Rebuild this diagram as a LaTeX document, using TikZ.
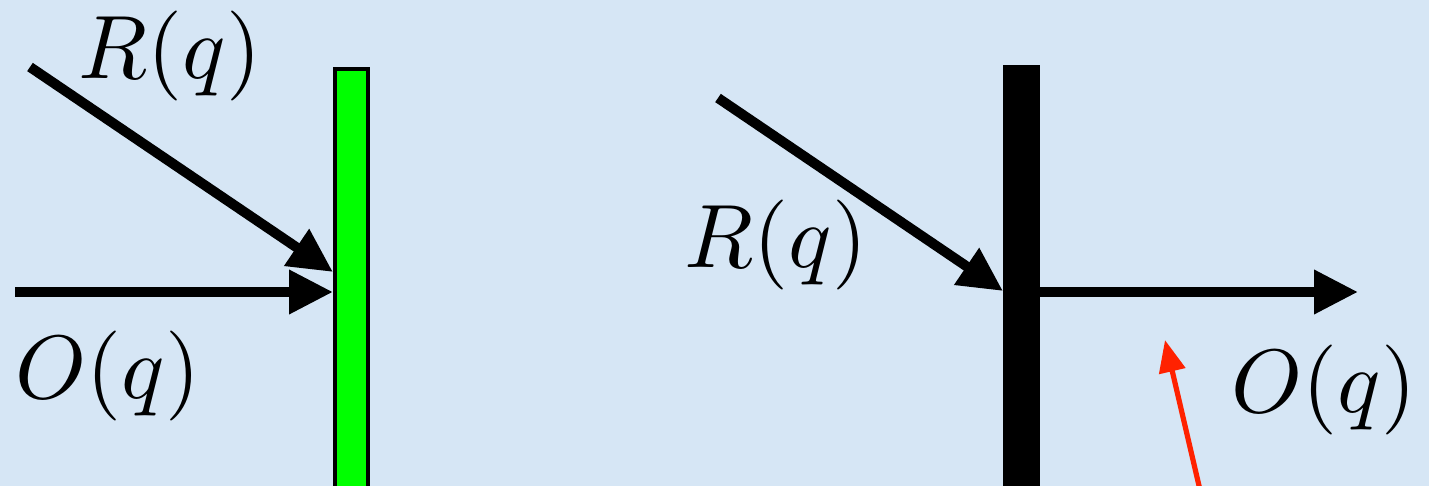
\documentclass[tikz,border=0pt]{standalone}
\usepackage{graphicx}
\usetikzlibrary{arrows.meta}
\definecolor{bgblue}{RGB}{214,230,245}
\definecolor{arrred}{RGB}{255,34,0}
\definecolor{bargreen}{RGB}{0,255,0}
\tikzset{
  ray/.style={line width=5pt, -{Triangle[length=22pt,width=21pt]}},
  lbl/.style={inner sep=0pt, font=\normalsize},
  redarrow/.style={draw=arrred, line width=2.6pt, -{Triangle[length=16pt,width=13pt]}, color=arrred}
}
\newcommand{\lab}[1]{\scalebox{4.5}{$#1(q)$}}
\begin{document}
\begin{tikzpicture}[x=0.5pt,y=-0.5pt]
\fill[bgblue] (0,0) rectangle (1429,486);
\useasboundingbox (0,0) rectangle (1429,486);
% left panel
\node[draw=black, line width=2pt, fill=bargreen, minimum width=16.5pt, minimum height=212pt, inner sep=0pt, anchor=north west] (gbar) at (333,67) {};
\coordinate (rl) at (30,67);
\coordinate (ol) at (15,292);
\coordinate (glr) at (333,272);
\coordinate (glo) at (333,292);
\draw[ray] (rl) -- (glr);
\draw[ray] (ol) -- (glo);
\node[lbl] (rlab) at (170,56) {\lab{R}};
\node[lbl] (olab) at (108,376) {\lab{O}};
% right panel
\node[fill=black, minimum width=18.5pt, minimum height=215pt, inner sep=0pt, anchor=north west] (bbar) at (1003,65) {};
\coordinate (rr) at (718,98);
\coordinate (brr) at (1003,291);
\coordinate (bro) at (1040,292);
\coordinate (oend) at (1358,292);
\draw[ray] (rr) -- (brr);
\draw[ray] (bro) -- (oend);
\node[lbl] (rlab2) at (776,245) {\lab{R}};
\node[lbl] (olab2) at (1324,390) {\lab{O}};
\coordinate (redstart) at (1200,490);
\coordinate (redtip) at (1165,340);
\draw[redarrow] (redstart) -- (redtip);
\end{tikzpicture}
\end{document}
